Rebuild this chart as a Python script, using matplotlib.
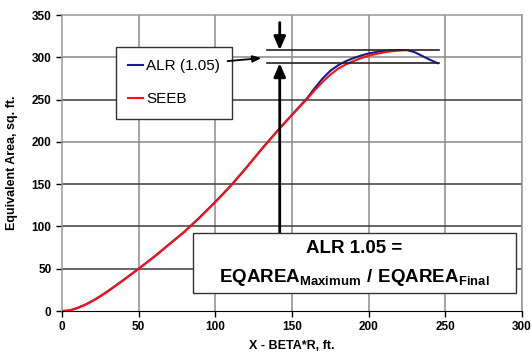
import numpy as np
import matplotlib
matplotlib.use("Agg")
import matplotlib.pyplot as plt
from matplotlib.patches import Rectangle

plt.rcParams['font.family'] = ['Liberation Sans', 'DejaVu Sans']
plt.rcParams['mathtext.fontset'] = 'custom'
plt.rcParams['mathtext.bf'] = 'Liberation Sans:bold'
plt.rcParams['mathtext.rm'] = 'Liberation Sans'

# data
seeb_x = [0, 3, 6, 10, 15, 20, 25, 30, 40, 50, 60, 70, 80, 90, 100, 110, 120, 130,
          140, 150, 160, 165, 170, 175, 180, 185, 190, 195, 200, 205, 210, 215,
          220, 225]
seeb_y = [0, 0.3, 1.2, 3.5, 7.3, 12, 17.5, 23.5, 36.5, 50, 64, 79, 94, 111, 129,
          148, 169, 191, 212, 232, 251, 261.5, 271, 279.5, 286.5, 291.5, 295.5,
          299, 301.8, 304, 305.8, 307.2, 308.1, 308.5]
alr_x = [0, 3, 6, 10, 15, 20, 25, 30, 40, 50, 60, 70, 80, 90, 100, 110, 120, 130,
         140, 150, 160, 165, 170, 175, 180, 185, 190, 195, 200, 205, 210, 215,
         220, 225, 230, 235, 240, 245]
alr_y = [0, 0.3, 1.2, 3.5, 7.3, 12, 17.5, 23.5, 36.5, 50, 64, 79, 94, 111, 129,
         148, 169, 191, 212, 232, 252, 264, 275, 284, 290.5, 295.3, 299, 302,
         304.5, 306.3, 307.5, 308.2, 308.5, 308.5, 306, 301.5, 297, 293]
eq_max = 308.5
eq_final = 293
xticks = [0, 50, 100, 150, 200, 250, 300]
yticks = [0, 50, 100, 150, 200, 250, 300, 350]

fig = plt.figure(figsize=(5.31, 3.55), dpi=100)
ax = fig.add_axes([62/531, 1 - 311/355, 460/531, 296/355])
ax.set_xlim(0, 300)
ax.set_ylim(0, 350)

# grid
for xv in xticks[1:]:
    ax.axvline(xv, color='#8c8c8c', lw=1.1, zorder=1)
for yv in yticks[1:-1]:
    ax.axhline(yv, color='#888888' if yv in (200, 300) else '#3c3c3c', lw=1.1, zorder=1)
for s in ['top', 'right', 'left']:
    ax.spines[s].set_color('#999999')
    ax.spines[s].set_linewidth(1.1)
ax.spines['bottom'].set_color('black')
ax.set_xticks(xticks)
ax.set_yticks(yticks)
ax.tick_params(axis='both', length=4, width=1, colors='black', labelsize=8.5)
for lab in ax.get_xticklabels() + ax.get_yticklabels():
    lab.set_fontweight('bold')

l1, = ax.plot(alr_x, alr_y, color='#1a1a8c', lw=1.5, zorder=3, label='ALR (1.05)')
l2, = ax.plot(seeb_x, seeb_y, color='#ff1010', lw=1.5, zorder=4, label='SEEB')

ax.set_xlabel('X - BETA*R, ft.', fontsize=9, fontweight='bold', labelpad=5)
ax.set_ylabel('Equivalent Area, sq. ft.', fontsize=9, fontweight='bold', labelpad=10)

leg = ax.legend(handles=[l1, l2], loc='upper left', bbox_to_anchor=(35/300, 312/350),
                fontsize=11, handlelength=1.0, handletextpad=0.2, labelspacing=1.25,
                borderpad=0.8, borderaxespad=0, fancybox=False, framealpha=1,
                edgecolor='#333333')
leg.get_frame().set_linewidth(1.0)
leg.set_zorder(6)

# max / final lines
ax.plot([134, 246], [eq_max, eq_max], color='#222222', lw=1.2, zorder=5)
ax.plot([134, 246], [eq_final, eq_final], color='#222222', lw=1.2, zorder=5)

# arrows
ax.annotate('', xy=(142, eq_max), xytext=(142, 341),
            arrowprops=dict(arrowstyle='-|>,head_width=0.35,head_length=0.8',
                            color='black', lw=2, shrinkA=0, shrinkB=0), zorder=6)
ax.annotate('', xy=(142, eq_final), xytext=(142, 92),
            arrowprops=dict(arrowstyle='-|>,head_width=0.35,head_length=0.8',
                            color='black', lw=2, shrinkA=0, shrinkB=0), zorder=6)
ax.annotate('', xy=(130, 299), xytext=(108, 295.5),
            arrowprops=dict(arrowstyle='-|>,head_width=0.2,head_length=0.5',
                            color='black', lw=1.3, shrinkA=0, shrinkB=0), zorder=7)

# formula box
ax.add_patch(Rectangle((85.5, 21.5), 210.5, 70.5, facecolor='white',
                       edgecolor='#333333', lw=1.0, zorder=6))
ax.text(190.7, 74, 'ALR 1.05 =', ha='center', va='center', fontsize=13.5,
        fontweight='bold', zorder=7)
ax.text(190.7, 40, r'$\mathbf{EQAREA_{Maximum}\ /\ EQAREA_{Final}}$', ha='center',
        va='center', fontsize=13.5, zorder=7)

fig.savefig('out.png', dpi=100)
